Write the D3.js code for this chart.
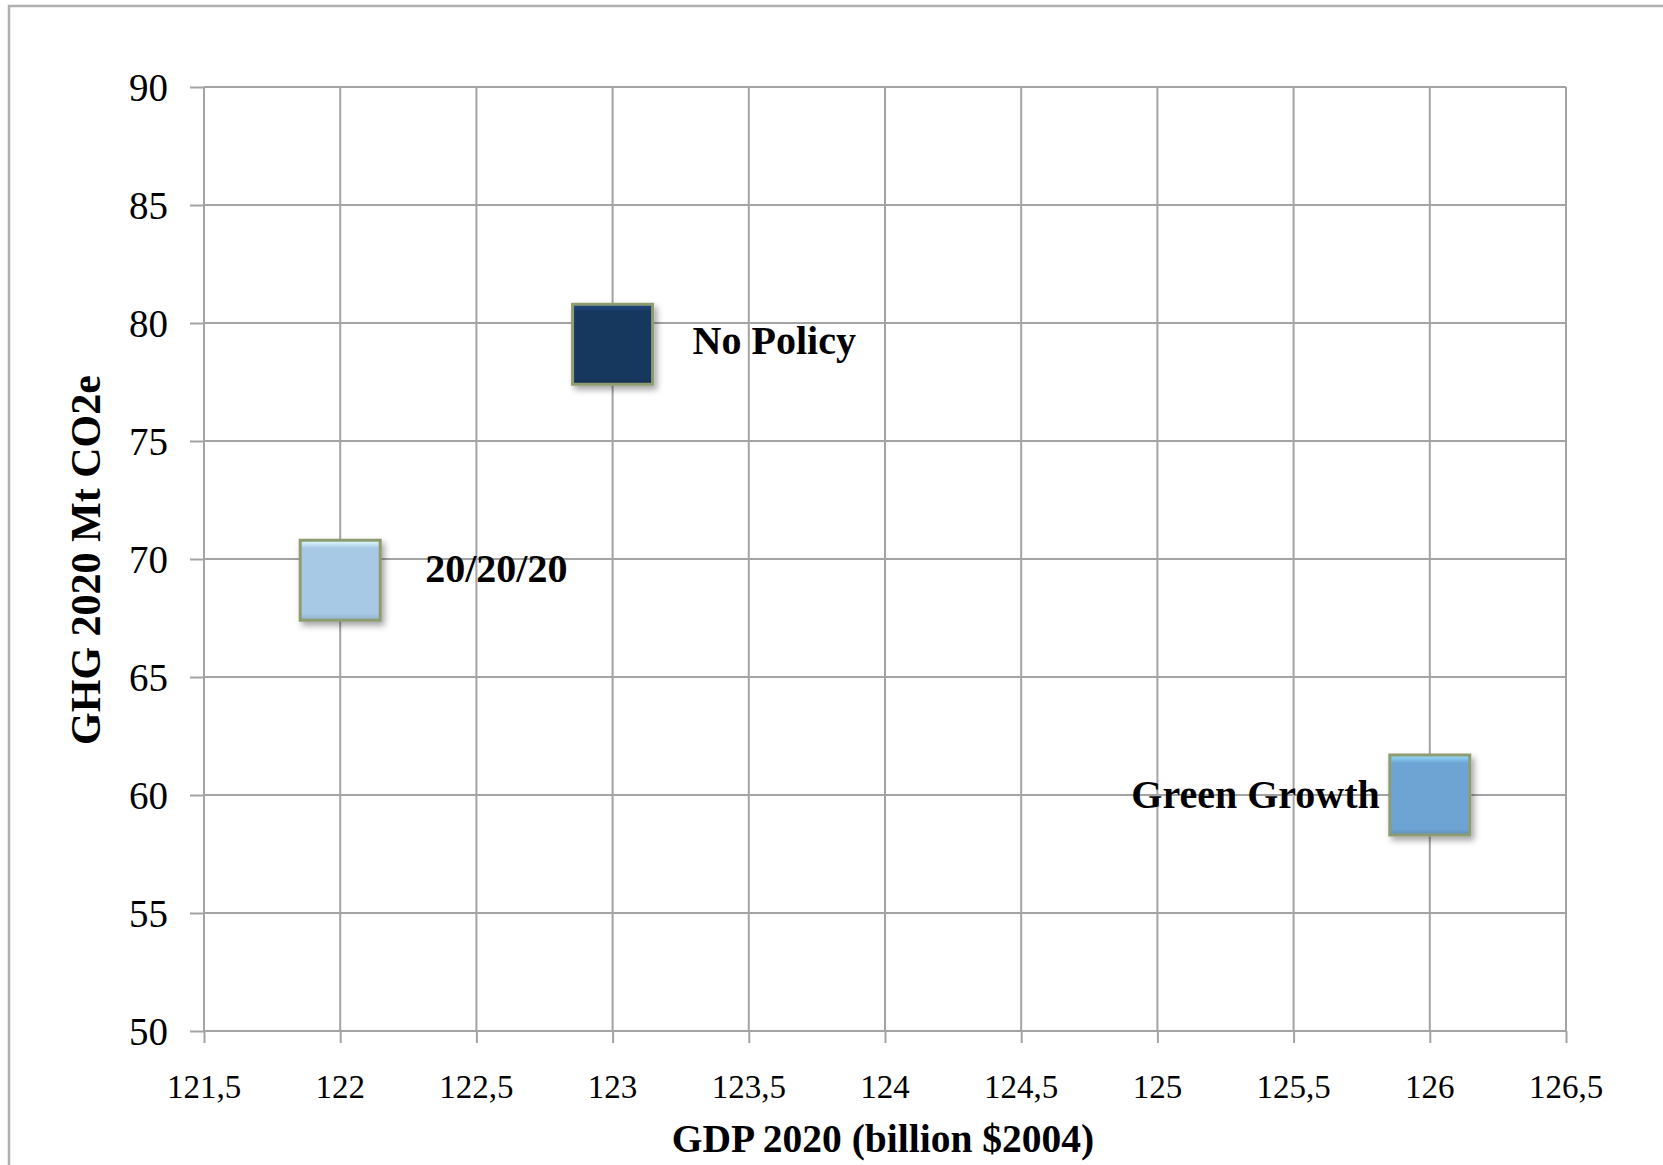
<!DOCTYPE html>
<html>
<head>
<meta charset="utf-8">
<script src="https://cdn.jsdelivr.net/npm/d3@7"></script>
<style>
  html, body { margin: 0; padding: 0; background: #fff; }
  svg { display: block; }
  text { font-family: "Liberation Serif", "Times New Roman", serif; fill: #000; }
</style>
</head>
<body>
<svg id="chart"></svg>
<script>
const scenarios = ["No Policy", "20/20/20", "Green Growth"];
const gdp = [123, 122, 126];
const ghg = [79.1, 69.1, 60.0];
const xTicks = [121.5, 122, 122.5, 123, 123.5, 124, 124.5, 125, 125.5, 126, 126.5];
const yTicks = [50, 55, 60, 65, 70, 75, 80, 85, 90];

const fills = ["#17375e", "#a7c9e6", "#6ea4d4"];
const labelPlace = [
  { dx: 80, dy: 10, anchor: "start" },
  { dx: 85, dy: 2, anchor: "start" },
  { dx: -50, dy: 13, anchor: "end" },
];

const W = 1663, H = 1165;
const plot = { left: 204, right: 1566, top: 87, bottom: 1031 };
const grid = "#a3a3a3";

const svg = d3.select("#chart").attr("width", W).attr("height", H);

// outer chart frame (runs off the right and bottom edges)
svg.append("rect")
  .attr("x", 9).attr("y", 6)
  .attr("width", W + 20).attr("height", H + 20)
  .attr("fill", "#fff").attr("stroke", "#b0b0b0").attr("stroke-width", 2.5);

const x = d3.scaleLinear().domain([121.5, 126.5]).range([plot.left, plot.right]);
const y = d3.scaleLinear().domain([50, 90]).range([plot.bottom, plot.top]);

const defs = svg.append("defs");
const shadow = defs.append("filter").attr("id", "shadow")
  .attr("x", "-20%").attr("y", "-20%").attr("width", "150%").attr("height", "150%");
shadow.append("feDropShadow")
  .attr("dx", 3).attr("dy", 4).attr("stdDeviation", 3)
  .attr("flood-color", "#000").attr("flood-opacity", 0.35);

fills.forEach((c, i) => {
  const g = defs.append("linearGradient").attr("id", `bevel${i}`)
    .attr("x1", 0).attr("y1", 0).attr("x2", 0).attr("y2", 1);
  g.append("stop").attr("offset", "0%").attr("stop-color", d3.color(c).brighter(0.9));
  g.append("stop").attr("offset", "10%").attr("stop-color", c);
  g.append("stop").attr("offset", "92%").attr("stop-color", c);
  g.append("stop").attr("offset", "100%").attr("stop-color", d3.color(c).darker(0.4));
});

// gridlines
svg.append("g")
  .attr("transform", `translate(${plot.left},0)`)
  .call(d3.axisLeft(y).tickValues(yTicks).tickSize(14).tickFormat(""))
  .call(g => g.select(".domain").remove())
  .call(g => g.selectAll("line").attr("stroke", grid).attr("stroke-width", 2));
svg.append("g")
  .selectAll("line.hgrid")
  .data(yTicks)
  .join("line")
  .attr("x1", plot.left).attr("x2", plot.right)
  .attr("y1", d => y(d)).attr("y2", d => y(d))
  .attr("stroke", grid).attr("stroke-width", 2);

svg.append("g")
  .attr("transform", `translate(0,${plot.bottom})`)
  .call(d3.axisBottom(x).tickValues(xTicks).tickSize(12).tickFormat(""))
  .call(g => g.select(".domain").remove())
  .call(g => g.selectAll("line").attr("stroke", grid).attr("stroke-width", 2));
svg.append("g")
  .selectAll("line")
  .data(xTicks)
  .join("line")
  .attr("x1", d => x(d)).attr("x2", d => x(d))
  .attr("y1", plot.top).attr("y2", plot.bottom)
  .attr("stroke", grid).attr("stroke-width", 2);

// tick labels
svg.append("g")
  .selectAll("text")
  .data(yTicks)
  .join("text")
  .attr("x", 168).attr("y", d => y(d)).attr("dy", "0.36em")
  .attr("text-anchor", "end")
  .style("font-size", "39px")
  .text(d => d);

const fmt = d => String(d).replace(".", ",");
svg.append("g")
  .selectAll("text")
  .data(xTicks)
  .join("text")
  .attr("x", d => x(d)).attr("y", 1098)
  .attr("text-anchor", "middle")
  .style("font-size", "33px")
  .text(fmt);

// axis titles
svg.append("text")
  .attr("x", (plot.left + plot.right) / 2 - 2).attr("y", 1152)
  .attr("text-anchor", "middle")
  .style("font-size", "39.5px").style("font-weight", "bold")
  .text("GDP 2020 (billion $2004)");

svg.append("text")
  .attr("transform", "translate(100,560) rotate(-90)")
  .attr("text-anchor", "middle")
  .style("font-size", "42px").style("font-weight", "bold")
  .text("GHG 2020 Mt CO2e");

// markers
const size = 80;
const pts = scenarios.map((name, i) => ({ name, gx: gdp[i], gy: ghg[i], i }));

svg.append("g")
  .selectAll("rect")
  .data(pts)
  .join("rect")
  .attr("x", d => x(d.gx) - size / 2)
  .attr("y", d => y(d.gy) - size / 2)
  .attr("width", size).attr("height", size)
  .attr("fill", d => `url(#bevel${d.i})`)
  .attr("stroke", "#8e9c72").attr("stroke-width", 3)
  .attr("filter", "url(#shadow)");

svg.append("g")
  .selectAll("text")
  .data(pts)
  .join("text")
  .attr("x", d => x(d.gx) + labelPlace[d.i].dx)
  .attr("y", d => y(d.gy) + labelPlace[d.i].dy)
  .attr("text-anchor", d => labelPlace[d.i].anchor)
  .style("font-size", "40px").style("font-weight", "bold")
  .text(d => d.name);
</script>
</body>
</html>
